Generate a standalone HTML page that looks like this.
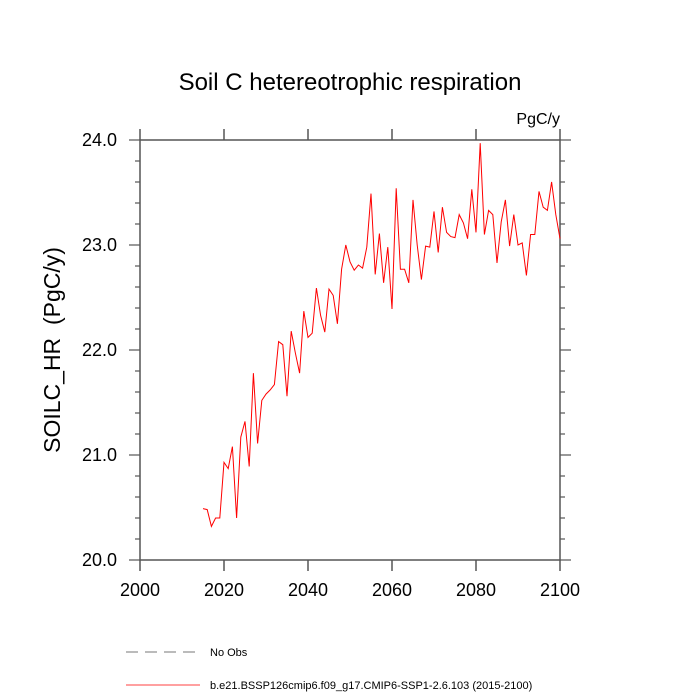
<!DOCTYPE html>
<html><head><meta charset="utf-8"><style>
body{margin:0;background:#fff}
svg{display:block;font-family:"Liberation Sans",sans-serif}
</style></head><body>
<svg id="chart" width="700" height="700">
<text x="350" y="90" text-anchor="middle" font-size="24">Soil C hetereotrophic respiration</text>
<text x="560" y="124" text-anchor="end" font-size="16">PgC/y</text>
<text transform="translate(60,350) rotate(-90)" text-anchor="middle" font-size="23" style="white-space:pre">SOILC_HR  (PgC/y)</text>
<g id="axes"></g>
<g id="series"></g>
<line x1="126" y1="652" x2="200" y2="652" stroke="#777" stroke-dasharray="12,7"/>
<text x="210" y="656" font-size="11">No Obs</text>
<line x1="126" y1="685" x2="200" y2="685" stroke="#f00" stroke-width="0.7"/>
<text x="210" y="689" font-size="11">b.e21.BSSP126cmip6.f09_g17.CMIP6-SSP1-2.6.103 (2015-2100)</text>
</svg>
<script>
const years=[];for(let y=2015;y<=2100;y++)years.push(y);
const values=[20.49,20.48,20.32,20.40,20.40,20.93,20.87,21.08,20.40,21.17,21.32,20.89,21.78,21.11,21.52,21.58,21.62,21.67,22.08,22.05,21.56,22.18,21.97,21.78,22.37,22.12,22.16,22.59,22.33,22.17,22.58,22.52,22.25,22.77,23.00,22.84,22.76,22.81,22.78,22.98,23.49,22.72,23.11,22.64,22.98,22.39,23.54,22.77,22.77,22.64,23.43,23.00,22.67,22.99,22.98,23.32,22.93,23.36,23.12,23.08,23.07,23.29,23.21,23.06,23.53,23.12,23.97,23.10,23.33,23.29,22.83,23.22,23.43,22.99,23.29,23.00,23.02,22.71,23.10,23.10,23.51,23.36,23.33,23.60,23.29,23.06];
const xTicks=[2000,2020,2040,2060,2080,2100];
const yTicks=[20.0,21.0,22.0,23.0,24.0];
const X0=140,X1=560,Y0=560,Y1=140;
const xs=v=>X0+(v-2000)/100*(X1-X0);
const ys=v=>Y0-(v-20)/4*(Y0-Y1);
const NS="http://www.w3.org/2000/svg";
const ax=document.getElementById('axes');
function mk(tag,attrs,parent){const e=document.createElementNS(NS,tag);for(const k in attrs)e.setAttribute(k,attrs[k]);parent.appendChild(e);return e;}
const frame=mk('rect',{x:X0,y:Y1,width:X1-X0,height:Y0-Y1,fill:'none',stroke:'#555','stroke-width':1.5},ax);


const tc='#555';
xTicks.forEach(t=>{const x=xs(t);
 mk('line',{x1:x,y1:Y0,x2:x,y2:Y0+11,stroke:tc,'stroke-width':1.5},ax);
 mk('line',{x1:x,y1:Y1,x2:x,y2:Y1-11,stroke:tc,'stroke-width':1.5},ax);
 const l=mk('text',{x:x,y:596,'text-anchor':'middle','font-size':18},ax);l.textContent=t;
 
 
});
for(let v=20;v<=24.001;v+=0.2){const y=ys(v);const major=Math.abs(v-Math.round(v))<0.01;const L=major?11:5;
 mk('line',{x1:X0,y1:y,x2:X0-L,y2:y,stroke:tc,'stroke-width':1.2},ax);
 mk('line',{x1:X1,y1:y,x2:X1+L,y2:y,stroke:tc,'stroke-width':1.2},ax);}
yTicks.forEach(t=>{const l=mk('text',{x:117,y:ys(t)+6,'text-anchor':'end','font-size':18},ax);l.textContent=t.toFixed(1);
 
 
});
const pts=years.map((y,i)=>xs(y).toFixed(1)+','+ys(values[i]).toFixed(1)).join(' ');
const line=mk('polyline',{points:pts,fill:'none',stroke:'#f00','stroke-width':1},document.getElementById('series'));


</script>
</body></html>
